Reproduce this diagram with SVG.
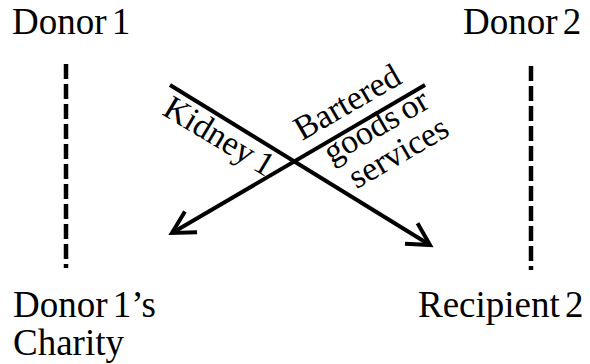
<svg xmlns="http://www.w3.org/2000/svg" width="590" height="364" viewBox="0 0 590 364">
<style>
text{font-family:"Liberation Serif","Times New Roman",serif;fill:#000}
.lbl{font-size:37px;word-spacing:-4px}
.rot{font-size:34px;word-spacing:-3px}
.dash{stroke:#000;stroke-width:4.5;stroke-dasharray:15 5;fill:none}
.arr{stroke:#000;stroke-width:4;fill:none}
</style>
<defs>
<marker id="head" markerUnits="userSpaceOnUse" markerWidth="40" markerHeight="40" viewBox="-30 -20 40 40" refX="0" refY="0" orient="auto" overflow="visible">
<path d="M -22 -12 L 0 0 L -22 12" fill="none" stroke="#000" stroke-width="4" stroke-linejoin="miter"/>
</marker>
</defs>
<rect width="590" height="364" fill="#fff"/>
<g id="donor1"><text class="lbl" x="12" y="34">Donor 1</text></g>
<g id="donor2"><text class="lbl" x="463" y="34">Donor 2</text></g>
<g id="charity"><text class="lbl" x="13" y="317">Donor 1’s</text><text class="lbl" x="13" y="355">Charity</text></g>
<g id="recipient2"><text class="lbl" x="418" y="317">Recipient 2</text></g>
<g id="connectors">
<line class="dash" x1="66" y1="64" x2="66" y2="268"/>
<line class="dash" x1="531" y1="66" x2="531" y2="270"/>
<line class="arr" x1="170" y1="85" x2="430" y2="245" marker-end="url(#head)"/>
<line class="arr" x1="425" y1="85" x2="172" y2="233" marker-end="url(#head)"/>
<g id="kidney-label"><text class="rot" transform="translate(161,114) rotate(31)">Kidney 1</text></g>
<g id="barter-label" transform="translate(302,141) rotate(-30)">
<text class="rot" x="0" y="0">Bartered</text>
<text class="rot" x="14" y="35">goods or</text>
<text class="rot" x="23" y="69">services</text>
</g>
</g>
</svg>
